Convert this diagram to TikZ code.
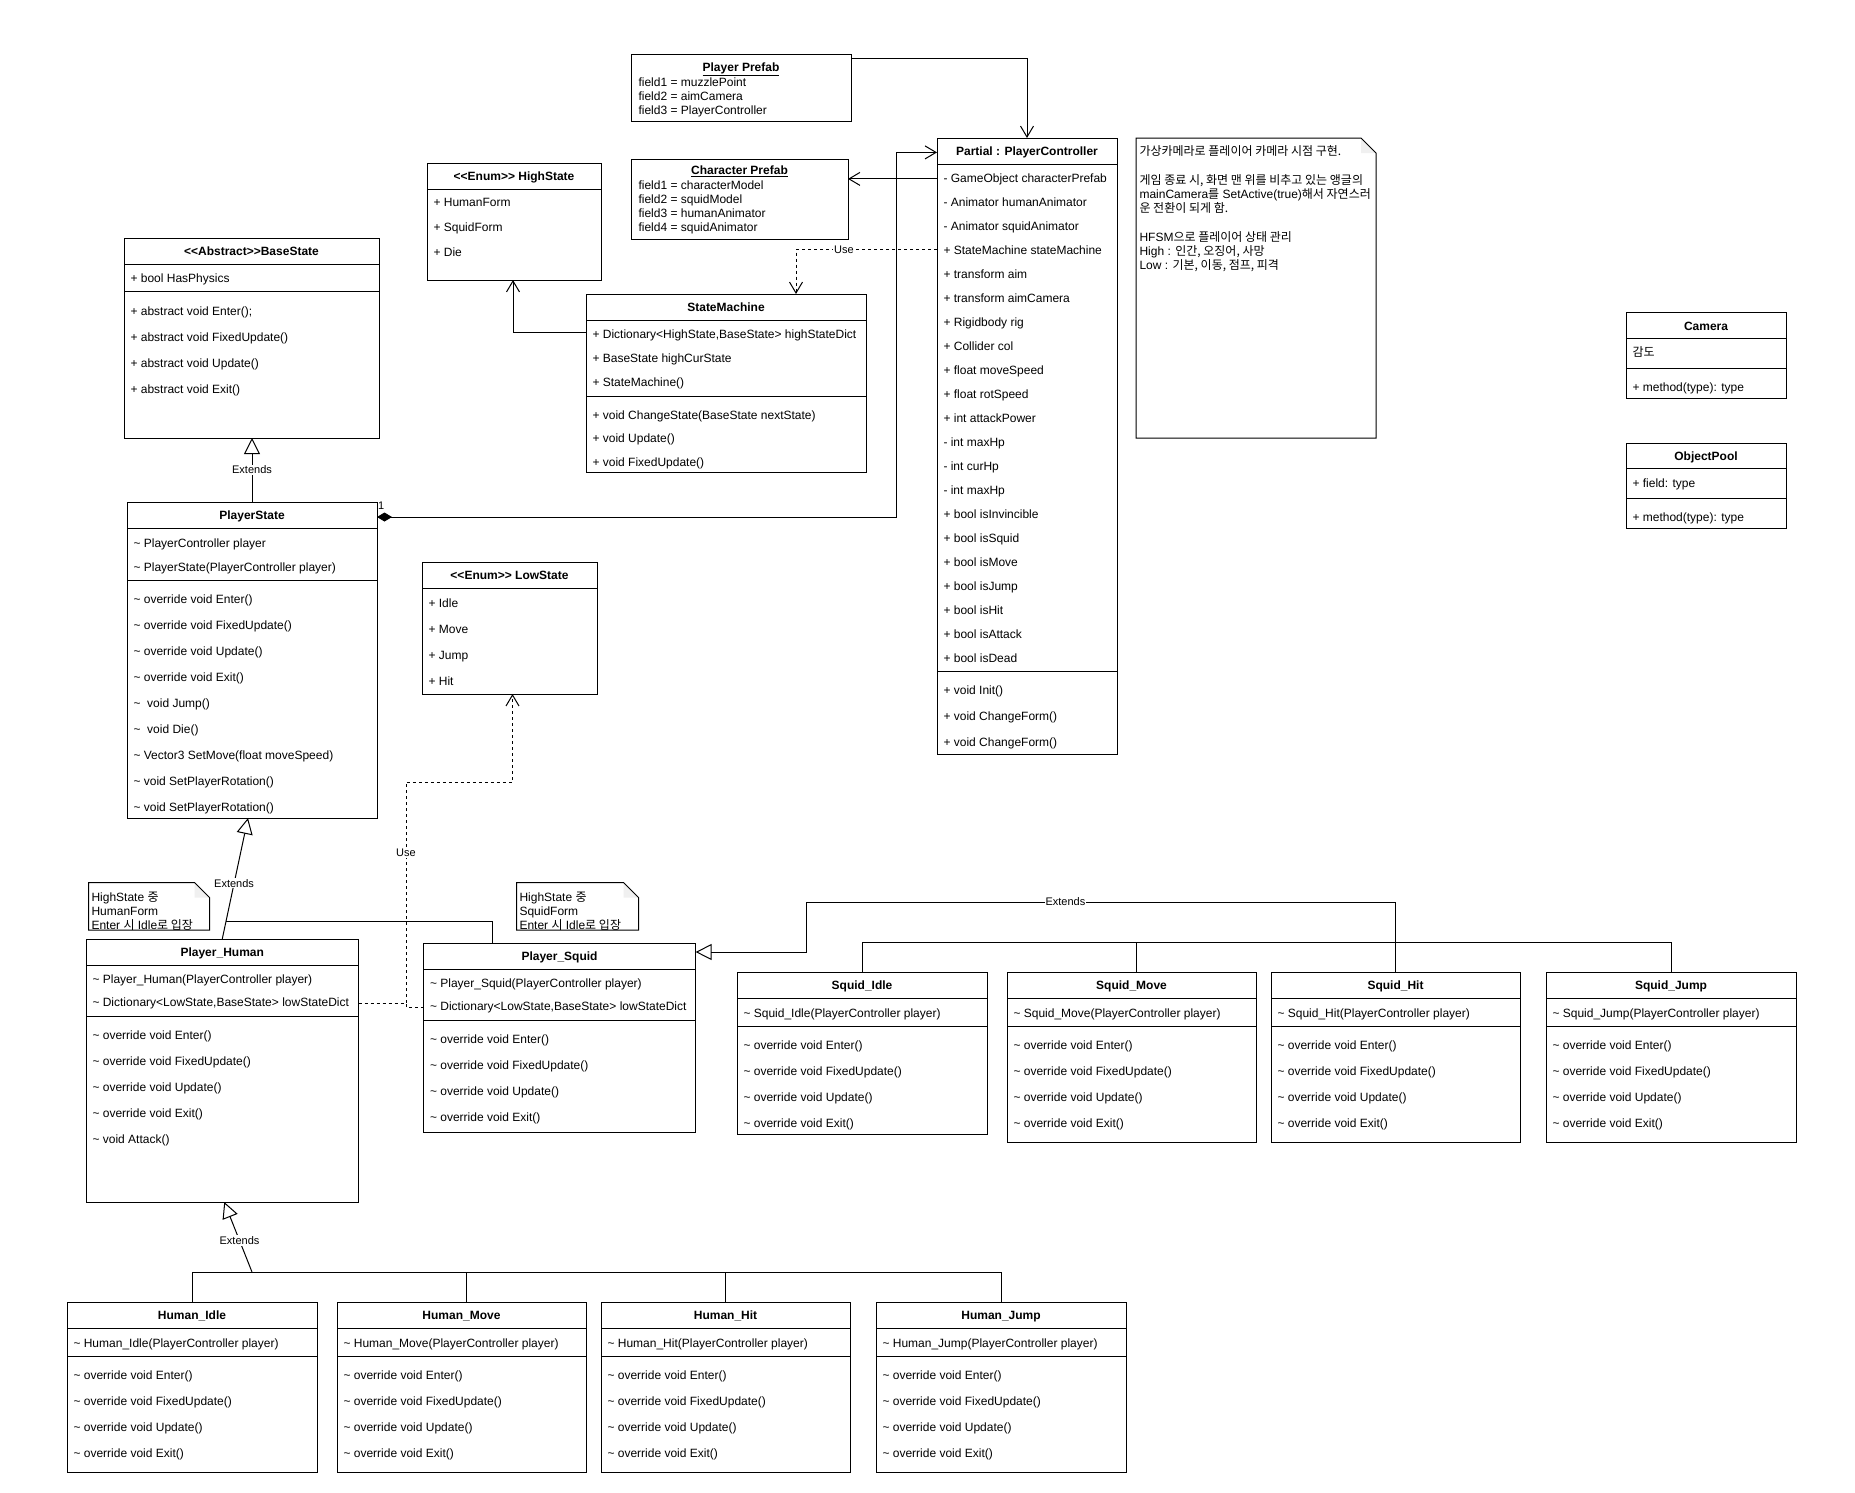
\documentclass[tikz,border=0pt]{standalone}
\usepackage{fontspec}
\setmainfont{Liberation Sans}
\newfontfamily\kr{Noto Sans CJK KR}[Scale=1.0]
\usetikzlibrary{arrows.meta,calc,fit}

\newcommand{\tld}{\textasciitilde}
\newcommand{\dlt}{<\kern0pt<}
\newcommand{\dgt}{>\kern0pt>}
% separator line across a class box
\newcommand{\sepline}[2]{\draw (#1.west |- 0,#2) -- (#1.east |- 0,#2);}
% member rows: prefix, x, first baseline, step, list
\newcommand{\classrows}[5]{\foreach \rtx [count=\rn from 0] in {#5} {\node[mem] (#1\rn) at (#2,{#3+#4*\rn}) {\rtx};}}
% note with folded corner
\newcommand{\notebox}[5]{%
  \node[inner sep=0pt, outer sep=0pt, fit={(#2,#3) (#4,#5)}] (#1) {};
  \fill[gray!12] ([xshift=-15pt]#1.north east) -- ([shift={(-15pt,-15pt)}]#1.north east) -- ([yshift=-15pt]#1.north east) -- cycle;
  \draw (#1.north west) -- ([xshift=-15pt]#1.north east) -- ([yshift=-15pt]#1.north east) -- (#1.south east) -- (#1.south west) -- cycle;}

\begin{document}
\begin{tikzpicture}[x=1pt, y=-1pt, line width=1pt,
  cls/.style={draw, inner sep=0pt, outer sep=0pt},
  mem/.style={anchor=base west, inner sep=0pt, font=\fontsize{12}{14.4}\selectfont},
  ttl/.style={anchor=base, inner sep=0pt, font=\fontsize{12}{14.4}\selectfont\bfseries},
  lbl/.style={fill=white, inner sep=1pt, font=\fontsize{11}{13}\selectfont},
  dsh/.style={dash pattern=on 3pt off 3pt},
  assoc/.style={-{Straight Barb[length=11pt,width=13pt]}},
  usedep/.style={dsh, assoc},
  ext/.style={-{Triangle[open,length=16pt,width=16pt]}},
  comp/.style={{Diamond[length=15pt,width=9pt]}-{Straight Barb[length=11pt,width=13pt]}}]
  \fill[white] (0,0) rectangle (1855,1492);
  \useasboundingbox (0,0) rectangle (1855,1492);

  % prefabs
  \node[cls, fit={(631,54) (851,121)}] (pprefab) {};
  \node[ttl] (pprefabT) at (pprefab.north |- 0,71) {\underline{Player Prefab}};
  \classrows{pprefabA}{638}{86}{14.2}{field1 = muzzlePoint, field2 = aimCamera, field3 = PlayerController}
  \node[cls, fit={(631,159) (848,239)}] (cprefab) {};
  \node[ttl] (cprefabT) at (cprefab.north |- 0,174.5) {\underline{Character Prefab}};
  \classrows{cprefabA}{638}{189}{14.2}{field1 = characterModel, field2 = squidModel, field3 = humanAnimator, field4 = squidAnimator}

  % player controller
  \node[cls, fit={(937,138) (1117,754)}] (pc) {};
  \node[ttl] (pcT) at (pc.north |- 0,155.5) {Partial : PlayerController};
  \sepline{pc}{164}
  \classrows{pcA}{943}{182}{24}{- GameObject characterPrefab, - Animator humanAnimator, - Animator squidAnimator, + StateMachine stateMachine, + transform aim, + transform aimCamera, + Rigidbody rig, + Collider col, + float moveSpeed, + float rotSpeed, + int attackPower, - int maxHp, - int curHp, - int maxHp, + bool isInvincible, + bool isSquid, + bool isMove, + bool isJump, + bool isHit, + bool isAttack, + bool isDead}
  \sepline{pc}{671}
  \classrows{pcM}{943}{694.5}{26}{+ void Init(), + void ChangeForm(), + void ChangeForm()}

  % memo
  \notebox{memo}{1136}{138}{1376}{438}
  \foreach \yy/\mtx [count=\mn] in {155.5/{{\kr 가상카메라로 플레이어 카메라 시점 구현.}},
      184.1/{{\kr 게임 종료 시, 화면 맨 위를 비추고 있는 앵글의}},
      198.4/{mainCamera{\kr 를} SetActive(true){\kr 해서 자연스러}},
      212.7/{{\kr 운 전환이 되게 함.}},
      241.3/{HFSM{\kr 으로 플레이어 상태 관리}},
      255.6/{High : {\kr 인간, 오징어, 사망}},
      269.9/{Low : {\kr 기본, 이동, 점프, 피격}}}
    \node[mem] (memo\mn) at (1139,\yy) {\mtx};

  % enums and state machine
  \node[cls, fit={(427,163) (601,280)}] (hs) {};
  \node[ttl] (hsT) at (hs.north |- 0,180) {\dlt Enum\dgt{} HighState};
  \sepline{hs}{189}
  \classrows{hsA}{433}{206.5}{24.8}{+ HumanForm, + SquidForm, + Die}

  \node[cls, fit={(586,294) (866,472)}] (sm) {};
  \node[ttl] (smT) at (sm.north |- 0,311) {StateMachine};
  \sepline{sm}{320}
  \classrows{smA}{592}{338.5}{24}{{+ Dictionary<HighState,BaseState> highStateDict}, + BaseState highCurState, + StateMachine()}
  \sepline{sm}{396.5}
  \classrows{smM}{592}{419}{23.7}{+ void ChangeState(BaseState nextState), + void Update(), + void FixedUpdate()}

  \node[cls, fit={(422,562) (597,694)}] (ls) {};
  \node[ttl] (lsT) at (ls.north |- 0,579) {\dlt Enum\dgt{} LowState};
  \sepline{ls}{588}
  \classrows{lsA}{428}{607}{26}{+ Idle, + Move, + Jump, + Hit}

  % base states
  \node[cls, fit={(124,238) (379,438)}] (bs) {};
  \node[ttl] (bsT) at (bs.north |- 0,255) {\dlt Abstract\dgt BaseState};
  \sepline{bs}{264}
  \classrows{bsA}{130}{282}{26}{+ bool HasPhysics}
  \sepline{bs}{291.5}
  \classrows{bsM}{130}{315}{26}{{+ abstract void Enter();}, + abstract void FixedUpdate(), + abstract void Update(), + abstract void Exit()}

  \node[cls, fit={(127,502) (377,818)}] (ps) {};
  \node[ttl] (psT) at (ps.north |- 0,519) {PlayerState};
  \sepline{ps}{528}
  \classrows{psA}{133}{547}{24}{\tld{} PlayerController player, \tld{} PlayerState(PlayerController player)}
  \sepline{ps}{580}
  \classrows{psM}{133}{603}{26}{\tld{} override void Enter(), \tld{} override void FixedUpdate(), \tld{} override void Update(), \tld{} override void Exit(), \tld\ \ void Jump(), \tld\ \ void Die(), \tld{} Vector3 SetMove(float moveSpeed), \tld{} void SetPlayerRotation(), \tld{} void SetPlayerRotation()}

  % high states
  \node[cls, fit={(86,939) (358.5,1202)}] (ph) {};
  \node[ttl] (phT) at (ph.north |- 0,956) {Player\_Human};
  \sepline{ph}{965}
  \classrows{phA}{92}{983}{23.7}{\tld{} Player\_Human(PlayerController player), {\tld{} Dictionary<LowState,BaseState> lowStateDict}}
  \sepline{ph}{1016}
  \classrows{phM}{92}{1039}{26}{\tld{} override void Enter(), \tld{} override void FixedUpdate(), \tld{} override void Update(), \tld{} override void Exit(), \tld{} void Attack()}

  \node[cls, fit={(423.5,943) (695.6,1132)}] (psq) {};
  \node[ttl] (psqT) at (psq.north |- 0,960) {Player\_Squid};
  \sepline{psq}{969}
  \classrows{psqA}{429.5}{987}{23.7}{\tld{} Player\_Squid(PlayerController player), {\tld{} Dictionary<LowState,BaseState> lowStateDict}}
  \sepline{psq}{1020.5}
  \classrows{psqM}{429.5}{1043}{26}{\tld{} override void Enter(), \tld{} override void FixedUpdate(), \tld{} override void Update(), \tld{} override void Exit()}

  \notebox{hnote}{88.5}{882.5}{209.5}{930}
  \classrows{hnoteA}{91}{901}{14.3}{HighState {\kr 중}, HumanForm, Enter {\kr 시} Idle{\kr 로 입장}}
  \notebox{snote}{516.5}{882.5}{638.5}{930}
  \classrows{snoteA}{519}{901}{14.3}{HighState {\kr 중}, SquidForm, Enter {\kr 시} Idle{\kr 로 입장}}

  % low states
  \foreach \nm/\xa/\xb/\yb in {Idle/737/987/1134.5, Move/1007/1256/1142, Hit/1271/1520/1142, Jump/1546/1796/1142}{
    \node[cls, fit={(\xa,972) (\xb,\yb)}] (sq\nm) {};
    \node[ttl] (sq\nm-T) at (sq\nm.north |- 0,989) {Squid\_\nm};
    \sepline{sq\nm}{998}
    \node[mem] (sq\nm-A) at (\xa+6,1017) {\tld{} Squid\_\nm(PlayerController player)};
    \sepline{sq\nm}{1026}
    \classrows{sq\nm-M}{\xa+6}{1049}{26}{\tld{} override void Enter(), \tld{} override void FixedUpdate(), \tld{} override void Update(), \tld{} override void Exit()}
  }
  \foreach \nm/\xa/\xb in {Idle/67/317, Move/337/586, Hit/601/850, Jump/876/1126}{
    \node[cls, fit={(\xa,1302) (\xb,1472)}] (hu\nm) {};
    \node[ttl] (hu\nm-T) at (hu\nm.north |- 0,1319) {Human\_\nm};
    \sepline{hu\nm}{1328}
    \node[mem] (hu\nm-A) at (\xa+6,1347) {\tld{} Human\_\nm(PlayerController player)};
    \sepline{hu\nm}{1356}
    \classrows{hu\nm-M}{\xa+6}{1379}{26}{\tld{} override void Enter(), \tld{} override void FixedUpdate(), \tld{} override void Update(), \tld{} override void Exit()}
  }

  % camera, pool
  \node[cls, fit={(1626,312) (1786,398)}] (cam) {};
  \node[ttl] (camT) at (cam.north |- 0,330) {Camera};
  \sepline{cam}{338}
  \classrows{camA}{1632}{356}{26}{{\kr 감도}}
  \sepline{cam}{368}
  \classrows{camM}{1632}{391.5}{26}{+ method(type): type}
  \node[cls, fit={(1626,443) (1786,528)}] (pool) {};
  \node[ttl] (poolT) at (pool.north |- 0,460) {ObjectPool};
  \sepline{pool}{468.5}
  \classrows{poolA}{1632}{487}{26}{+ field: type}
  \sepline{pool}{498.5}
  \classrows{poolM}{1632}{521.5}{26}{+ method(type): type}

  % connectors
  \draw[assoc] ([yshift=-4pt]pprefab.north east) -| (pc.north);
  \draw[assoc] (pc.west |- pcA0) -- (cprefab.east |- pcA0);
  \draw[usedep] (pc.west |- pcA3) -| ([xshift=210pt]sm.north west) node[pos=.33, lbl] (useSm) {Use};
  \draw[assoc] (sm.west |- 0,332) -| ([xshift=86pt]hs.south west);
  \draw[comp] ([yshift=-15pt]ps.north east) -| ($(pc.west |- pcT)+(-41,0)$) -- (pc.west |- pcT);
  \node[anchor=west, inner sep=.5pt, font=\fontsize{11}{13}\selectfont] (one) at ([yshift=-4pt]ps.north east) {1};
  \draw[ext] (ps.north) -- (ps.north |- bs.south) node[midway, lbl] (bsExt) {Extends};
  \draw[ext] (ph.north) -- ([xshift=-4pt]ps.south) node[pos=.46, lbl] (psExt) {Extends};
  \coordinate (jn) at ($(ph.north)!.146!([xshift=-4pt]ps.south)$);
  \draw ([xshift=68.5pt]psq.north west) |- (jn);
  % use LowState
  \coordinate (ubend) at (406,782);
  \draw[usedep] (ph.east |- phA1) -| (ubend) node[pos=.84, lbl] (useLs) {Use} -| ([xshift=3pt]ls.south);
  \draw[dsh] (psq.west |- psqA1) -| (ubend |- phA1);
  % squid family
  \draw ($(sqIdle.north)+(0,-30)$) -- ($(sqJump.north)+(0,-30)$);
  \foreach \nm/\dx in {Idle/0, Move/5, Hit/0, Jump/0}
    \draw ($(sq\nm.north)+(\dx,0)$) -- ++(0,-30);
  \coordinate (sqx) at (806,902);
  \draw[ext] ($(sqHit.north)+(0,-30)$) |- (sqx) node[pos=.78, lbl] (sqExt) {Extends} |- (psq.east |- 0,952);
  % human family
  \draw ($(huIdle.north)+(0,-30)$) -- ($(huJump.north)+(0,-30)$);
  \foreach \nm/\dx in {Idle/0, Move/5, Hit/0, Jump/0}
    \draw ($(hu\nm.north)+(\dx,0)$) -- ++(0,-30);
  \draw[ext] ($(huIdle.north)+(60,-30)$) -- ([xshift=2pt]ph.south) node[pos=.45, lbl] (huExt) {Extends};
\end{tikzpicture}
\end{document}
